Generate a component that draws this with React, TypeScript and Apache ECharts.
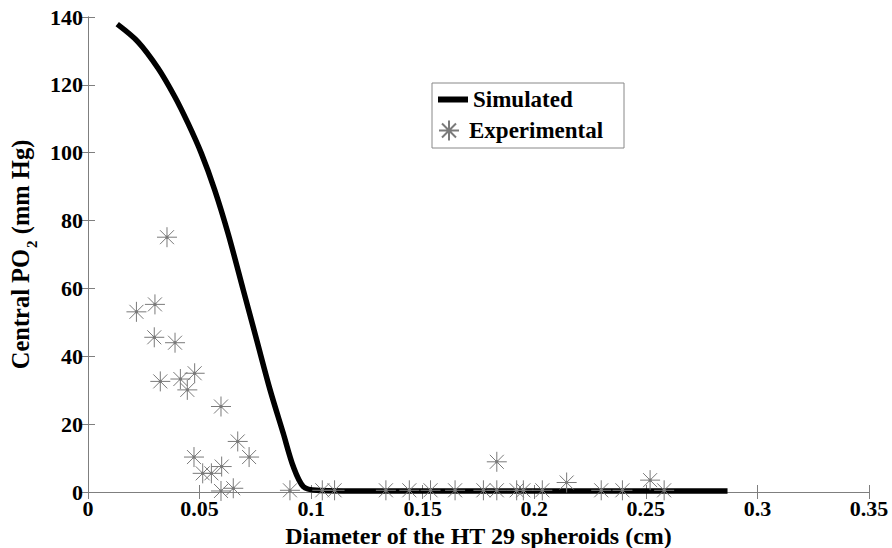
import React, { useEffect, useRef } from "react";
import * as echarts from "echarts";

// Simulated curve (diameter in cm, central PO2 in mm Hg)
const simDiameter = [0.0131, 0.0224, 0.0314, 0.0389, 0.0448, 0.0508, 0.0568, 0.0629, 0.0696, 0.0756, 0.0816, 0.0875, 0.092, 0.0965, 0.1025, 0.12, 0.2866];
const simPO2 = [137.9, 132.7, 124.9, 116.5, 108.7, 99.8, 89.0, 75.9, 59.5, 44.8, 30.1, 17.3, 7.5, 1.6, 0.5, 0.3, 0.3];

// Experimental points
const expDiameter = [0.0217, 0.03, 0.0297, 0.0324, 0.0354, 0.039, 0.0414, 0.0445, 0.0478, 0.0475, 0.0514, 0.0553, 0.0596, 0.0599, 0.0596, 0.0651, 0.0671, 0.0722, 0.0905, 0.105, 0.1105, 0.1335, 0.144, 0.1535, 0.1645, 0.1772, 0.1832, 0.1832, 0.1921, 0.1951, 0.2036, 0.2145, 0.23, 0.2395, 0.2519, 0.2582];
const expPO2 = [53.1, 55.3, 45.6, 32.6, 75.1, 44.0, 33.3, 30.1, 35.0, 10.3, 5.5, 5.5, 25.2, 7.5, 0.3, 1.1, 14.9, 10.3, 0.5, 0.5, 0.5, 0.5, 0.5, 0.5, 0.5, 0.5, 0.5, 8.9, 0.5, 0.5, 0.5, 2.8, 0.5, 0.5, 3.5, 0.5];

const xMin = 0, xMax = 0.35, xStep = 0.05;
const yMin = 0, yMax = 140, yStep = 20;

const seriesNames = ["Simulated", "Experimental"];
const xTitle = "Diameter of the HT 29 spheroids (cm)";

const FONT = "'Liberation Serif', 'Times New Roman', serif";
const AXIS_COLOR = "#7f7f7f";
const STAR = "path://M0,-10L0,10M-10,0L10,0M-7,-7L7,7M-7,7L7,-7M-1,-1L1,-1L1,1L-1,1Z";

export default function App() {
  const ref = useRef<HTMLDivElement>(null);
  useEffect(() => {
    if (!ref.current) return;
    const chart = echarts.init(ref.current, null, { renderer: "svg" });
    const axisCommon = {
      type: "value",
      axisLine: { show: true, lineStyle: { color: AXIS_COLOR, width: 1 } },
      axisTick: { show: true, inside: true, length: 7, lineStyle: { color: AXIS_COLOR } },
      splitLine: { show: false },
    };
    const labelStyle = { fontFamily: FONT, fontWeight: "bold", fontSize: 22, color: "#000" };
    chart.setOption({
      animation: false,
      backgroundColor: "#fff",
      grid: { left: 88, right: 23, top: 17, bottom: 56, containLabel: false, outerBoundsMode: "none" },
      xAxis: [
        {
          ...axisCommon,
          position: "bottom",
          min: xMin, max: xMax, interval: xStep,
          axisLabel: { ...labelStyle, margin: 5, formatter: (v: number) => String(+v.toFixed(2)) },
          name: xTitle,
          nameLocation: "middle",
          nameGap: 25,
          nameTextStyle: { fontFamily: FONT, fontWeight: "bold", fontSize: 24, color: "#000" },
        },
        {
          ...axisCommon,
          position: "top",
          min: xMin, max: xMax, interval: xStep,
          axisLabel: { show: false },
        },
      ],
      yAxis: [
        {
          ...axisCommon,
          position: "left",
          min: yMin, max: yMax, interval: yStep,
          axisLabel: { ...labelStyle, margin: 5 },
          name: "{a|Central PO}{s|2}{a| (mm Hg)}",
          nameLocation: "middle",
          nameRotate: 90,
          nameGap: 43,
          nameTextStyle: {
            fontFamily: FONT, fontWeight: "bold", fontSize: 24, color: "#000",
            rich: {
              a: { fontFamily: FONT, fontWeight: "bold", fontSize: 24.5, lineHeight: 24, verticalAlign: "top", color: "#000" },
              s: { fontFamily: FONT, fontWeight: "bold", fontSize: 15, lineHeight: 31, verticalAlign: "bottom", padding: [0, 0, 0, 1], color: "#000" },
            },
          },
        },
        {
          ...axisCommon,
          position: "right",
          min: yMin, max: yMax, interval: yStep,
          axisLabel: { show: false },
        },
      ],
      legend: [
        {
          data: [{ name: seriesNames[0], icon: "rect" }],
          left: 438, top: 88,
          itemWidth: 30, itemHeight: 6,
          padding: 0,
          textStyle: { fontFamily: FONT, fontWeight: "bold", fontSize: 23, color: "#000" },
        },
        {
          data: [{ name: seriesNames[1], icon: STAR }],
          left: 438, top: 119,
          itemWidth: 30, itemHeight: 20,
          padding: 0,
          symbolKeepAspect: true,
          textStyle: { fontFamily: FONT, fontWeight: "bold", fontSize: 23, color: "#000" },
        },
      ],
      graphic: [
        {
          type: "rect",
          shape: { x: 432, y: 83, width: 192, height: 65 },
          style: { fill: "transparent", stroke: "#888", lineWidth: 1 },
          silent: true,
        },
      ],
      series: [
        {
          name: seriesNames[0],
          type: "line",
          xAxisIndex: 0, yAxisIndex: 0,
          data: simDiameter.map((x, i) => [x, simPO2[i]]),
          showSymbol: false,
          smooth: 0.3,
          lineStyle: { color: "#000", width: 5.5 },
          itemStyle: { color: "#000" },
          z: 2,
        },
        {
          name: seriesNames[1],
          type: "scatter",
          xAxisIndex: 0, yAxisIndex: 0,
          data: expDiameter.map((x, i) => [x, expPO2[i]]),
          symbol: STAR,
          symbolSize: 20,
          itemStyle: { color: "#000", borderColor: "#7a7a7a", borderWidth: 1, opacity: 1 },
          z: 3,
        },
      ],
    });
    return () => chart.dispose();
  }, []);
  return <div ref={ref} style={{ position: "fixed", left: 0, top: 0, width: 892, height: 548 }} />;
}
